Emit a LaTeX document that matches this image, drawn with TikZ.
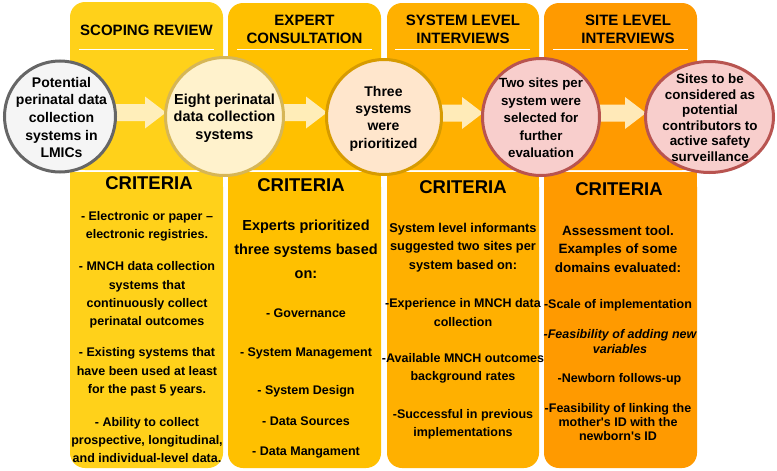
\documentclass[tikz,border=0pt]{standalone}
\usepackage{fontspec}
\setmainfont{Liberation Sans}
\usetikzlibrary{calc,shapes.geometric}
\pgfdeclarelayer{backlayer}
\pgfdeclarelayer{midlayer}
\pgfsetlayers{backlayer,midlayer,main}
\definecolor{colA}{HTML}{FFD11A}
\definecolor{colB}{HTML}{FFC000}
\definecolor{colC}{HTML}{FFB000}
\definecolor{colD}{HTML}{FF9A00}
\definecolor{arrfill}{HTML}{FFF2CC}
\definecolor{grayfill}{HTML}{F5F5F5}
\definecolor{graystroke}{HTML}{666666}
\definecolor{yelfill}{HTML}{FFF2CC}
\definecolor{yelstroke}{HTML}{D6B656}
\definecolor{orfill}{HTML}{FFE6CC}
\definecolor{orstroke}{HTML}{D79B00}
\definecolor{redfill}{HTML}{F8CECC}
\definecolor{redstroke}{HTML}{B85450}
\newcommand\blockarr[2]{\path[barrow] let \p1=(#1), \p2=(#2) in
  (\x1,\y1+8.5pt) -- (\x2-21pt,\y1+8.5pt) -- (\x2-21pt,\y1+16pt) -- (\x2,\y1)
  -- (\x2-21pt,\y1-16pt) -- (\x2-21pt,\y1-8.5pt) -- (\x1,\y1-8.5pt) -- cycle;}
\begin{document}
\begin{tikzpicture}[x=1pt,y=-1pt,
  hdr/.style={font=\bfseries\fontsize{15}{17.7}\selectfont, align=center, inner sep=0},
  crit/.style={font=\bfseries\fontsize{18.5}{22}\selectfont, inner sep=0},
  body/.style={font=\bfseries\fontsize{12.5}{18.3}\selectfont, align=center, inner sep=0},
  ctext/.style={font=\bfseries\fontsize{14}{17.6}\selectfont, align=center, inner sep=0},
  sepline/.style={draw=white, line width=1pt},
  barrow/.style={fill=arrfill, fill opacity=0.9},
  circbase/.style={circle, line width=3pt, inner sep=0},
  ellbase/.style={ellipse, line width=3pt, inner sep=0},
  hdrbox/.style={rounded corners=15pt}
]
\useasboundingbox (0,0) rectangle (777,471);
% columns
\begin{pgfonlayer}{backlayer}
\foreach \xa/\xb/\yt/\c in {70/223/2/colA, 228/381/3/colB, 387/539/3/colC, 544/697/3/colD}{
  \fill[\c, hdrbox] (\xa,\yt) rectangle (\xb,170);
  \fill[\c] (\xa,100) rectangle (\xb,170);
  \fill[\c, hdrbox] (\xa,172) rectangle (\xb,468);
  \fill[\c] (\xa,172) rectangle (\xb,240);
}
\draw[sepline] (79,49) -- (214,49);
\draw[sepline] (237,49) -- (372,49);
\draw[sepline] (395,49) -- (530,49);
\draw[sepline] (553,49) -- (688,49);
\end{pgfonlayer}
% headers
\node[hdr] (h1) at (146.5,30) {SCOPING REVIEW};
\node[hdr] (h2) at (304.5,29.5) {EXPERT\\CONSULTATION};
\node[hdr] (h3) at (463,29.5) {SYSTEM LEVEL\\INTERVIEWS};
\node[hdr] (h4) at (628,29.5) {SITE LEVEL\\INTERVIEWS};
% circles
\node[circbase, draw=graystroke, fill=grayfill, minimum size=111pt] (c1) at (60,116.5) {};
\node[circbase, draw=yelstroke, fill=yelfill, minimum size=118pt] (c2) at (224.5,116.5) {};
\node[circbase, draw=orstroke, fill=orfill, minimum size=115pt] (c3) at (384,117) {};
\node[circbase, draw=redstroke, fill=redfill, minimum size=117pt] (c4) at (541,117) {};
\node[ellbase, draw=redstroke, fill=redfill, minimum width=128pt, minimum height=111pt] (c5) at (709.5,117) {};
% block arrows between circles
\coordinate (a1s) at ($(c1.center)+(40,-4)$);
\coordinate (a1e) at ($(c2.west)+(2,-4)$);
\coordinate (a2s) at ($(c2.center)+(40,-4)$);
\coordinate (a2e) at ($(c3.west)+(2,-4)$);
\coordinate (a3s) at ($(c3.center)+(40,-4)$);
\coordinate (a3e) at ($(c4.west)+(2,-4)$);
\coordinate (a4s) at ($(c4.center)+(40,-4)$);
\coordinate (a4e) at ($(c5.west)+(2,-4)$);
\begin{pgfonlayer}{midlayer}
\blockarr{a1s}{a1e}
\blockarr{a2s}{a2e}
\blockarr{a3s}{a3e}
\blockarr{a4s}{a4e}
\end{pgfonlayer}
% circle texts
\node[ctext] (t1) at (61.5,117.5) {Potential\\perinatal data\\collection\\systems in\\LMICs};
\node[ctext, font=\bfseries\fontsize{14.5}{17.5}\selectfont] (t2) at (224.5,118) {Eight perinatal\\data collection\\systems};
\node[ctext, font=\bfseries\fontsize{14}{17.3}\selectfont] (t3) at (383.5,118.5) {Three\\systems\\were\\prioritized};
\node[ctext, font=\bfseries\fontsize{13.3}{17.5}\selectfont] (t4) at (541,118) {Two sites per\\system were\\selected for\\further\\evaluation};
\node[ctext, font=\bfseries\fontsize{13.4}{15.5}\selectfont] (t5) at (710,117.5) {Sites to be\\considered as\\potential\\contributors to\\active safety\\surveillance};
% CRITERIA labels
\node[crit] (k1) at (149,183) {CRITERIA};
\node[crit] (k2) at (301,185) {CRITERIA};
\node[crit] (k3) at (463,187) {CRITERIA};
\node[crit] (k4) at (619,189) {CRITERIA};
% column 1 body
\node[body] (b1a) at (147,226.5) {- Electronic or paper --\\electronic registries.};
\node[body] (b1b) at (147,295) {- MNCH data collection\\systems that\\continuously collect\\perinatal outcomes};
\node[body] (b1c) at (147,372) {- Existing systems that\\have been used at least\\for the past 5 years.};
\node[body] (b1d) at (147,440) {- Ability to collect\\prospective, longitudinal,\\and individual-level data.};
% column 2 body
\node[body, font=\bfseries\fontsize{14.5}{24}\selectfont] (b2a) at (306,249.5) {Experts prioritized\\three systems based\\on:};
\node[body] (b2b) at (306,313) {- Governance};
\node[body] (b2c) at (306,353.5) {- System Management};
\node[body] (b2d) at (306,391) {- System Design};
\node[body] (b2e) at (306,421.5) {- Data Sources};
\node[body] (b2f) at (306,452.5) {- Data Mangament};
% column 3 body
\node[body, font=\bfseries\fontsize{12.8}{18.8}\selectfont] (b3a) at (463,247.5) {System level informants\\suggested two sites per\\system based on:};
\node[body] (b3b) at (463,312.5) {-Experience in MNCH data\\collection};
\node[body] (b3c) at (463,368) {-Available MNCH outcomes\\background rates};
\node[body] (b3d) at (463,424) {-Successful in previous\\implementations};
% column 4 body
\node[body, font=\bfseries\fontsize{13.5}{18.3}\selectfont] (b4a) at (618,249) {Assessment tool.\\Examples of some\\domains evaluated:};
\node[body] (b4b) at (618,305) {-Scale of implementation};
\node[body, font=\bfseries\itshape\fontsize{12.5}{15}\selectfont] (b4c) at (620,342) {-Feasibility of adding new\\variables};
\node[body] (b4d) at (619.5,379) {-Newborn follows-up};
\node[body, font=\bfseries\fontsize{12.5}{14.2}\selectfont] (b4e) at (618,422) {-Feasibility of linking the\\mother\textquotesingle s ID with the\\newborn\textquotesingle s ID};
\end{tikzpicture}
\end{document}
